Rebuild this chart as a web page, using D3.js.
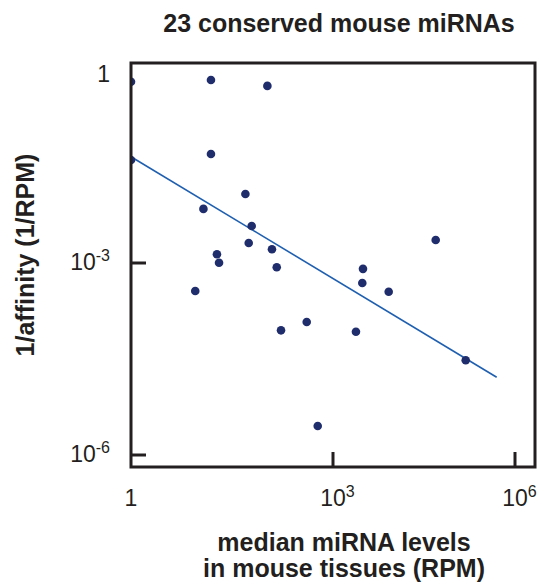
<!DOCTYPE html>
<html>
<head>
<meta charset="utf-8">
<script src="https://cdn.jsdelivr.net/npm/d3@7"></script>
<style>
  body { margin: 0; background: #fff; }
  text { font-family: "Liberation Sans", Arial, Helvetica, sans-serif; fill: #231f20; }
</style>
</head>
<body>
<div id="chart"></div>
<script>
// median miRNA level (RPM) and 1/affinity (1/RPM), 23 conserved mouse miRNAs
const levels = [1, 15.4, 106, 1, 15.4, 50, 11.9, 62, 56, 124, 18.9, 20.3, 146, 9.0, 49300, 3120, 3040, 8280, 407, 169, 2390, 154000, 593]
const invAffinity = [0.78, 0.83, 0.67, 0.044, 0.055, 0.0126, 0.0073, 0.0039, 0.00208, 0.00166, 0.00138, 0.00101, 0.00086, 0.000365, 0.00233, 0.00081, 0.000487, 0.000356, 0.000120, 0.0000887, 0.0000845, 0.0000302, 0.00000284]

// fitted line end points
const fitX = [1, 499000]
const fitY = [0.0497, 0.0000164]

const xTicks = [1, 1e3, 1e6]
const xTickLabels = [['1', ''], ['10', '3'], ['10', '6']]
const yTicks = [1, 1e-3, 1e-6]
const yTickLabels = [['1', ''], ['10', '-3'], ['10', '-6']]

const width = 542
const height = 583
const box = { left: 131, right: 535, top: 63, bottom: 467 }

const svg = d3.select('#chart')
  .append('svg')
  .attr('width', width)
  .attr('height', height)

const x = d3.scaleLog()
  .domain([1, 1e3, 1e6])
  .range([131, 333, 515])

const y = d3.scaleLog()
  .domain([1e-6, 1e-3, 1])
  .range([455, 263, 75])

svg.append('clipPath')
  .attr('id', 'clip')
  .append('rect')
  .attr('x', box.left)
  .attr('y', box.top)
  .attr('width', box.right - box.left)
  .attr('height', box.bottom - box.top)

const plot = svg.append('g').attr('clip-path', 'url(#clip)')

plot.append('line')
  .attr('x1', x(fitX[0]))
  .attr('y1', y(fitY[0]))
  .attr('x2', x(fitX[1]))
  .attr('y2', y(fitY[1]))
  .attr('stroke', '#1f5fb0')
  .attr('stroke-width', 1.6)

plot.selectAll('circle')
  .data(levels)
  .enter()
  .append('circle')
  .attr('cx', (d) => x(d))
  .attr('cy', (d, i) => y(invAffinity[i]))
  .attr('r', 4.3)
  .attr('fill', '#1f2d6d')

// frame
svg.append('rect')
  .attr('x', box.left)
  .attr('y', box.top)
  .attr('width', box.right - box.left)
  .attr('height', box.bottom - box.top)
  .attr('fill', 'none')
  .attr('stroke', '#231f20')
  .attr('stroke-width', 3)

// inward ticks (none at 1, it sits on the frame)
svg.selectAll('.xtick')
  .data(xTicks.slice(1))
  .enter()
  .append('line')
  .attr('x1', (d) => x(d))
  .attr('x2', (d) => x(d))
  .attr('y1', box.bottom)
  .attr('y2', box.bottom - 15)
  .attr('stroke', '#231f20')
  .attr('stroke-width', 3)

svg.selectAll('.ytick')
  .data(yTicks.slice(1))
  .enter()
  .append('line')
  .attr('x1', box.left)
  .attr('x2', box.left + 15)
  .attr('y1', (d) => y(d))
  .attr('y2', (d) => y(d))
  .attr('stroke', '#231f20')
  .attr('stroke-width', 3)

// tick labels
const xl = svg.selectAll('.xlabel')
  .data(xTicks)
  .enter()
  .append('text')
  .attr('x', (d, i) => x(d) - (xTickLabels[i][0].length * 12.8) / 2)
  .attr('y', 506)
  .attr('font-size', 23)
xl.append('tspan').text((d, i) => xTickLabels[i][0])
xl.append('tspan').attr('font-size', 16).attr('dy', -9).text((d, i) => xTickLabels[i][1])

const yl = svg.selectAll('.ylabel')
  .data(yTicks)
  .enter()
  .append('text')
  .attr('x', 110)
  .attr('y', (d) => y(d) + 7)
  .attr('text-anchor', 'end')
  .attr('font-size', 23)
yl.append('tspan').text((d, i) => yTickLabels[i][0])
yl.append('tspan').attr('font-size', 16).attr('dy', -9).text((d, i) => yTickLabels[i][1])

// titles
svg.append('text')
  .attr('x', 339)
  .attr('y', 32)
  .attr('text-anchor', 'middle')
  .attr('font-size', 25)
  .attr('font-weight', 'bold')
  .text('23 conserved mouse miRNAs')

svg.append('text')
  .attr('x', 344)
  .attr('y', 551)
  .attr('text-anchor', 'middle')
  .attr('font-size', 25)
  .attr('font-weight', 'bold')
  .text('median miRNA levels')

svg.append('text')
  .attr('x', 344)
  .attr('y', 577)
  .attr('text-anchor', 'middle')
  .attr('font-size', 25)
  .attr('font-weight', 'bold')
  .text('in mouse tissues (RPM)')

svg.append('text')
  .attr('transform', 'translate(34,255) rotate(-90)')
  .attr('text-anchor', 'middle')
  .attr('font-size', 25)
  .attr('font-weight', 'bold')
  .text('1/affinity (1/RPM)')
</script>
</body>
</html>
